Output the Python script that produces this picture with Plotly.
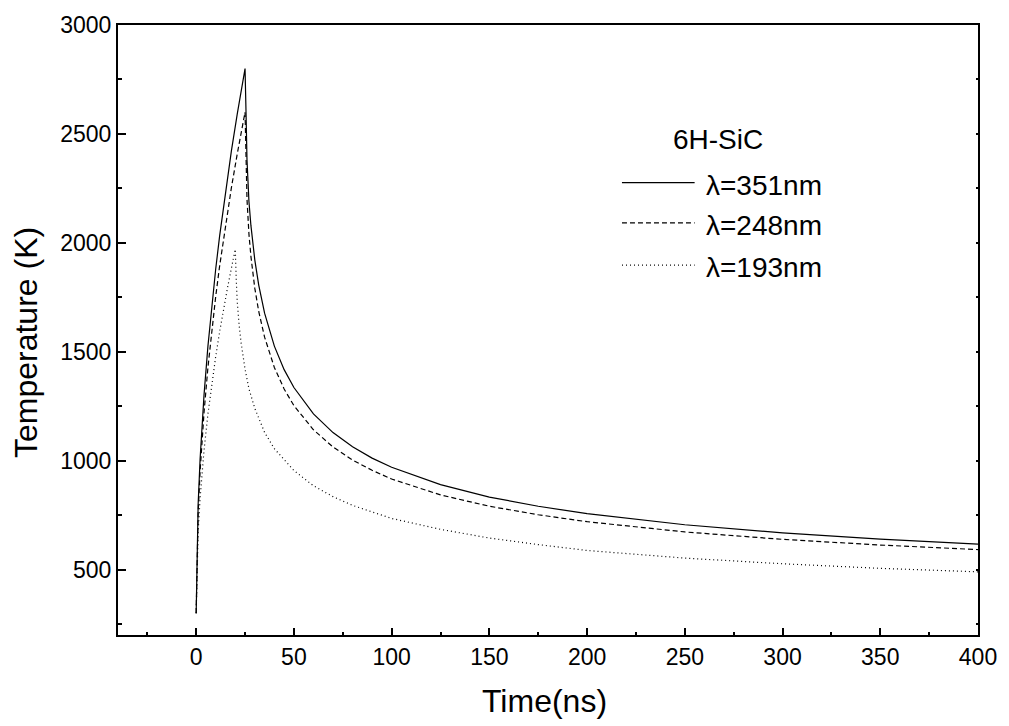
import plotly.graph_objects as go

# ---- data ----
t_351 = [0, 0.5, 1, 2, 3, 4, 6, 8, 10, 12, 15, 18, 21, 25, 25.5, 26, 27, 28, 30, 32, 35, 40, 45, 50,
         60, 70, 80, 90, 100, 125, 150, 175, 200, 250, 300, 350, 400]
T_351 = [300, 654, 800, 1007, 1166, 1300, 1525, 1714, 1881, 2032, 2236, 2421, 2591, 2800, 2600, 2380, 2190,
         2080, 1921, 1806, 1677, 1526, 1418, 1336, 1215, 1129, 1064, 1012, 970, 890, 833, 791, 757, 706,
         669, 640, 617]

t_248 = [0, 0.5, 1, 2, 3, 4, 6, 8, 10, 12, 15, 18, 21, 25, 25.5, 26, 27, 28, 30, 32, 35, 40, 45, 50,
         60, 70, 80, 90, 100, 125, 150, 175, 200, 250, 300, 350, 400]
T_248 = [300, 625, 760, 950, 1097, 1220, 1427, 1601, 1755, 1894, 2082, 2252, 2408, 2600, 2400, 2200, 2040,
         1938, 1791, 1685, 1567, 1428, 1329, 1253, 1142, 1063, 1003, 956, 916, 843, 791, 752, 720, 673,
         639, 613, 592]

t_193 = [0, 0.5, 1, 2, 3, 4, 6, 8, 10, 12, 14, 16, 18, 20, 20.5, 21, 22, 23, 25, 27, 30, 35, 40, 50,
         60, 70, 80, 100, 125, 150, 175, 200, 250, 300, 350, 400]
T_193 = [300, 564, 673, 827, 946, 1046, 1214, 1355, 1479, 1592, 1696, 1792, 1883, 1970, 1830, 1730, 1620,
         1540, 1420, 1330, 1240, 1130, 1055, 955, 885, 835, 795, 735, 685, 645, 615, 588, 553, 527, 506, 490]

series_names = ["\u03bb=351nm", "\u03bb=248nm", "\u03bb=193nm"]
series_dash = ["solid", "5px,3px", "1px,3px"]
sample_label = "6H-SiC"
x_title = "Time(ns)"
y_title = "Temperature (K)"

FONT = "Liberation Sans, Arial, sans-serif"

fig = go.Figure()
for tx, ty, name, dash in zip([t_351, t_248, t_193], [T_351, T_248, T_193], series_names, series_dash):
    fig.add_trace(go.Scatter(x=tx, y=ty, mode="lines", name=name,
                             line=dict(color="black", width=1.2, dash=dash),
                             showlegend=False))

# right axis with tiny ticks
fig.add_trace(go.Scatter(x=[None], y=[None], yaxis="y2", showlegend=False, hoverinfo="skip"))

fig.update_layout(
    width=1009, height=726,
    margin=dict(l=118, r=29, t=21, b=91),
    paper_bgcolor="white", plot_bgcolor="white",
    font=dict(family=FONT, color="black", size=23),
    xaxis=dict(range=[-40, 400], tick0=0, dtick=50, ticks="inside", ticklen=7, tickwidth=2,
               tickcolor="black", showline=True, linewidth=2, linecolor="black", mirror=True,
               showgrid=False, zeroline=False, tickfont=dict(size=23, family=FONT),
               minor=dict(dtick=25, tick0=0, ticks="inside", ticklen=3, tickwidth=1.5, tickcolor="black",
                          showgrid=False)),
    yaxis=dict(range=[200, 3000], tick0=0, dtick=500, ticks="inside", ticklen=8, tickwidth=2,
               tickcolor="black", showline=True, linewidth=2, linecolor="black", mirror=True,
               showgrid=False, zeroline=False, tickfont=dict(size=23, family=FONT),
               minor=dict(dtick=250, tick0=0, ticks="inside", ticklen=4, tickwidth=1.5, tickcolor="black",
                          showgrid=False)),
    yaxis2=dict(range=[200, 3000], overlaying="y", side="right", tick0=0, dtick=250, ticks="inside",
                ticklen=2, tickwidth=2, tickcolor="black", showticklabels=False, showline=False,
                showgrid=False, zeroline=False),
)

annotations = [
    dict(text=x_title, xref="paper", yref="paper", x=0.4964, y=-0.108, xanchor="center", yanchor="middle",
         showarrow=False, font=dict(size=32, family=FONT)),
    dict(text=y_title, xref="paper", yref="paper", x=-0.1067, y=0.479, xanchor="center", yanchor="middle",
         textangle=-90, showarrow=False, font=dict(size=32, family=FONT)),
    dict(text=sample_label, xref="paper", yref="paper", x=0.698, y=0.812, xanchor="center", yanchor="middle",
         showarrow=False, font=dict(size=28, family=FONT)),
]
shapes = []
row_y = [0.7416, 0.6756, 0.6063]
for name, dash, yy in zip(series_names, series_dash, row_y):
    shapes.append(dict(type="line", xref="paper", yref="paper", x0=0.586, x1=0.6705, y0=yy, y1=yy,
                       line=dict(color="black", width=1.2, dash=dash)))
    annotations.append(dict(text=name, xref="paper", yref="paper", x=0.681, y=yy - 0.004,
                            xanchor="left", yanchor="middle", showarrow=False,
                            font=dict(size=28, family=FONT)))
fig.update_layout(annotations=annotations, shapes=shapes)

fig.write_html("out.html")
